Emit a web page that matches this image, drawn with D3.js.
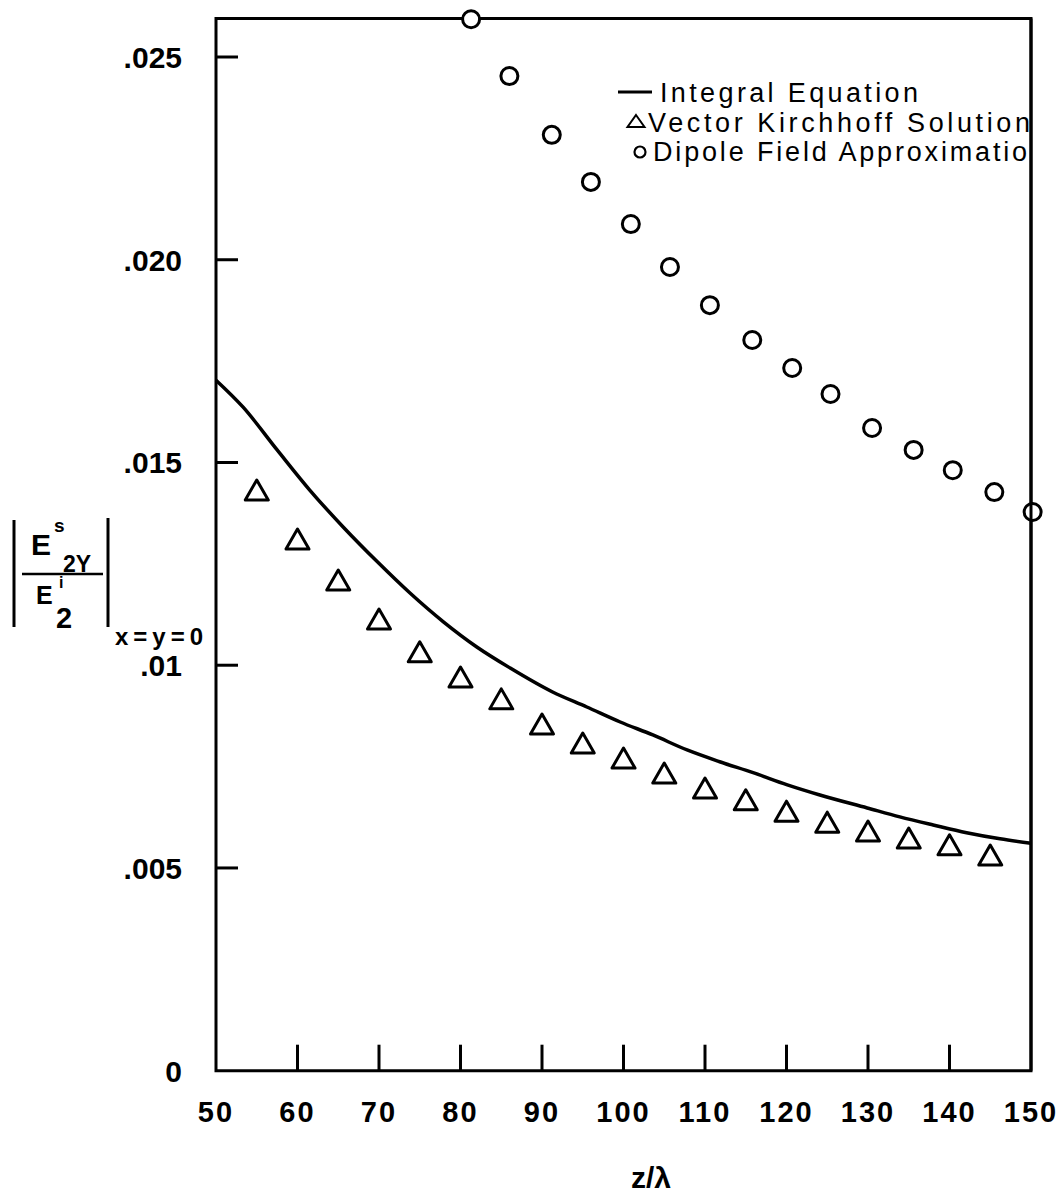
<!DOCTYPE html>
<html>
<head>
<meta charset="utf-8">
<script src="https://cdn.jsdelivr.net/npm/d3@7"></script>
<style>
  body { margin: 0; background: #fff; }
  text { font-family: "Liberation Sans", Arial, sans-serif; fill: #000; }
</style>
</head>
<body>
<div class="container"></div>
<script>
// values
var xTicks = [60, 70, 80, 90, 100, 110, 120, 130, 140];
var xTickLabels = ["50", "60", "70", "80", "90", "100", "110", "120", "130", "140", "150"];
var xLabelValues = [50, 60, 70, 80, 90, 100, 110, 120, 130, 140, 150];
var yTicks = [0.005, 0.01, 0.015, 0.02, 0.025];
var yTickLabels = ["0", ".005", ".01", ".015", ".020", ".025"];
var yLabelValues = [0, 0.005, 0.01, 0.015, 0.02, 0.025];

// integral equation (solid line)
var integralZ = [50, 53.3, 57.5, 61.5, 65.6, 69.8, 73.8, 77.9, 82.0, 86.1, 91.3, 95.5, 99.6,
  103.6, 107.8, 111.8, 115.9, 120.1, 124.1, 129.9, 133.9, 138.0, 142.1, 146.2, 150];
var integralE = [0.01703, 0.01637, 0.01531, 0.01432, 0.01341, 0.01255, 0.01178, 0.01107, 0.01045,
  0.00993, 0.00934, 0.00897, 0.00860, 0.00828, 0.00791, 0.00762, 0.00735, 0.00705, 0.00680,
  0.00648, 0.00626, 0.00606, 0.00587, 0.00572, 0.00561];

// vector kirchhoff (triangles)
var kirchZ = [55, 60, 65, 70, 75, 80, 85, 90, 95, 100, 105, 110, 115, 120, 125, 130, 135, 140, 145];
var kirchE = [0.01432, 0.01311, 0.01210, 0.01114, 0.01033, 0.00971, 0.00917, 0.00855, 0.00808,
  0.00771, 0.00734, 0.00697, 0.00668, 0.00640, 0.00613, 0.00591, 0.00574, 0.00557, 0.00532];

// dipole field (circles)
var dipoleZ = [81.3, 86, 91.2, 96, 100.9, 105.7, 110.6, 115.8, 120.7, 125.4, 130.5, 135.6, 140.4, 145.5, 150.2];
var dipoleE = [0.02593, 0.02453, 0.02308, 0.02192, 0.02088, 0.01982, 0.01888, 0.01802, 0.01733,
  0.01669, 0.01585, 0.01531, 0.01481, 0.01427, 0.01378];

var legendNames = ["Integral Equation", "Vector Kirchhoff Solution", "Dipole Field Approximation"];

var W = 1064, H = 1195;
var svg = d3.select(".container").append("svg").attr("width", W).attr("height", H);

var x = d3.scaleLinear().domain([50, 150]).range([216, 1031]);
var y = d3.scaleLinear().domain([0, 0.025]).range([1070.7, 57]);
var yTop = 0.02595;

// frame
var frame = svg.append("g").attr("stroke", "#000").attr("stroke-width", 3).attr("fill", "none");
frame.append("path")
  .attr("d", "M" + x(50) + "," + y(yTop) + "V" + y(0) + "H" + x(150) + "V" + y(yTop) + "Z");

// inward ticks
frame.selectAll(".xt").data(xTicks).enter().append("line")
  .attr("x1", function(d) { return x(d); }).attr("x2", function(d) { return x(d); })
  .attr("y1", y(0)).attr("y2", y(0) - 26);
frame.selectAll(".yt").data(yTicks).enter().append("line")
  .attr("x1", x(50)).attr("x2", x(50) + 22)
  .attr("y1", function(d) { return y(d); }).attr("y2", function(d) { return y(d); });

// tick labels
svg.selectAll(".xl").data(xLabelValues).enter().append("text")
  .attr("x", function(d) { return x(d); }).attr("y", 1122)
  .attr("text-anchor", "middle").style("font-size", "29px").style("font-weight", "bold")
  .style("letter-spacing", "2px")
  .text(function(d, i) { return xTickLabels[i]; });
svg.selectAll(".yl").data(yLabelValues).enter().append("text")
  .attr("x", 182).attr("y", function(d) { return y(d) + 11; })
  .attr("text-anchor", "end").style("font-size", "30px").style("font-weight", "bold")
  .text(function(d, i) { return yTickLabels[i]; });

// x axis title
svg.append("text").attr("x", 651).attr("y", 1188).attr("text-anchor", "middle")
  .style("font-size", "30px").style("font-weight", "bold").text("z/λ");

// y axis title |E^s_2Y / E^i_2|_{x=y=0}
var yl = svg.append("g");
yl.append("line").attr("x1", 14).attr("x2", 14).attr("y1", 520).attr("y2", 627).attr("stroke", "#000").attr("stroke-width", 3);
yl.append("line").attr("x1", 108).attr("x2", 108).attr("y1", 518).attr("y2", 627).attr("stroke", "#000").attr("stroke-width", 3);
yl.append("line").attr("x1", 22).attr("x2", 103).attr("y1", 574).attr("y2", 574).attr("stroke", "#000").attr("stroke-width", 2.5);
yl.append("text").attr("x", 31).attr("y", 555).style("font-size", "30px").style("font-weight", "bold").text("E");
yl.append("text").attr("x", 54).attr("y", 532).style("font-size", "19px").style("font-weight", "bold").text("s");
yl.append("text").attr("x", 63).attr("y", 572).style("font-size", "23px").style("font-weight", "bold").text("2Y");
yl.append("text").attr("x", 36).attr("y", 604).style("font-size", "25px").style("font-weight", "bold").text("E");
yl.append("text").attr("x", 59).attr("y", 588).style("font-size", "16px").style("font-weight", "bold").text("i");
yl.append("text").attr("x", 56).attr("y", 628).style("font-size", "29px").style("font-weight", "bold").text("2");
yl.append("text").attr("x", 115).attr("y", 645).attr("textLength", 88).style("font-size", "24px").style("font-weight", "bold").text("x=y=0");

// integral equation line
var lineData = integralZ.map(function(z, i) { return [z, integralE[i]]; });
svg.append("path").datum(lineData)
  .attr("fill", "none").attr("stroke", "#000").attr("stroke-width", 3.5)
  .attr("d", d3.line().x(function(d) { return x(d[0]); }).y(function(d) { return y(d[1]); }).curve(d3.curveMonotoneX));

// triangles
var tri = "M0,-10L11.5,10L-11.5,10Z";
svg.selectAll(".tri").data(kirchZ).enter().append("path")
  .attr("d", tri)
  .attr("transform", function(d, i) { return "translate(" + x(d) + "," + y(kirchE[i]) + ")"; })
  .attr("fill", "#fff").attr("stroke", "#000").attr("stroke-width", 3).attr("stroke-linejoin", "round");

// circles
svg.selectAll(".dip").data(dipoleZ).enter().append("circle")
  .attr("cx", function(d) { return x(d); })
  .attr("cy", function(d, i) { return y(dipoleE[i]); })
  .attr("r", 8.5)
  .attr("fill", "#fff").attr("stroke", "#000").attr("stroke-width", 3);

// legend (clipped at the right axis like the original)
svg.append("clipPath").attr("id", "plotclip").append("rect")
  .attr("x", x(50)).attr("y", y(yTop)).attr("width", x(150) - x(50) + 1).attr("height", y(0) - y(yTop));
var lg = svg.append("g").attr("clip-path", "url(#plotclip)");
lg.append("line").attr("x1", 618).attr("x2", 652).attr("y1", 92).attr("y2", 92).attr("stroke", "#000").attr("stroke-width", 3);
lg.append("path").attr("d", "M0,-6L8.5,6L-8.5,6Z").attr("transform", "translate(636,121)")
  .attr("fill", "none").attr("stroke", "#000").attr("stroke-width", 2);
lg.append("circle").attr("cx", 640).attr("cy", 152).attr("r", 5.5)
  .attr("fill", "none").attr("stroke", "#000").attr("stroke-width", 2.2);
var legX = [660, 648, 653], legY = [102, 132, 161], legW = [258, 382, 392];
lg.selectAll(".lt").data(legendNames).enter().append("text")
  .attr("x", function(d, i) { return legX[i]; })
  .attr("y", function(d, i) { return legY[i]; })
  .attr("textLength", function(d, i) { return legW[i]; })
  .attr("lengthAdjust", "spacing")
  .style("font-size", "27px")
  .text(function(d) { return d; });
// redraw right axis over the legend text
svg.append("line").attr("x1", x(150)).attr("x2", x(150)).attr("y1", y(yTop)).attr("y2", y(0))
  .attr("stroke", "#000").attr("stroke-width", 3);
</script>
</body>
</html>
